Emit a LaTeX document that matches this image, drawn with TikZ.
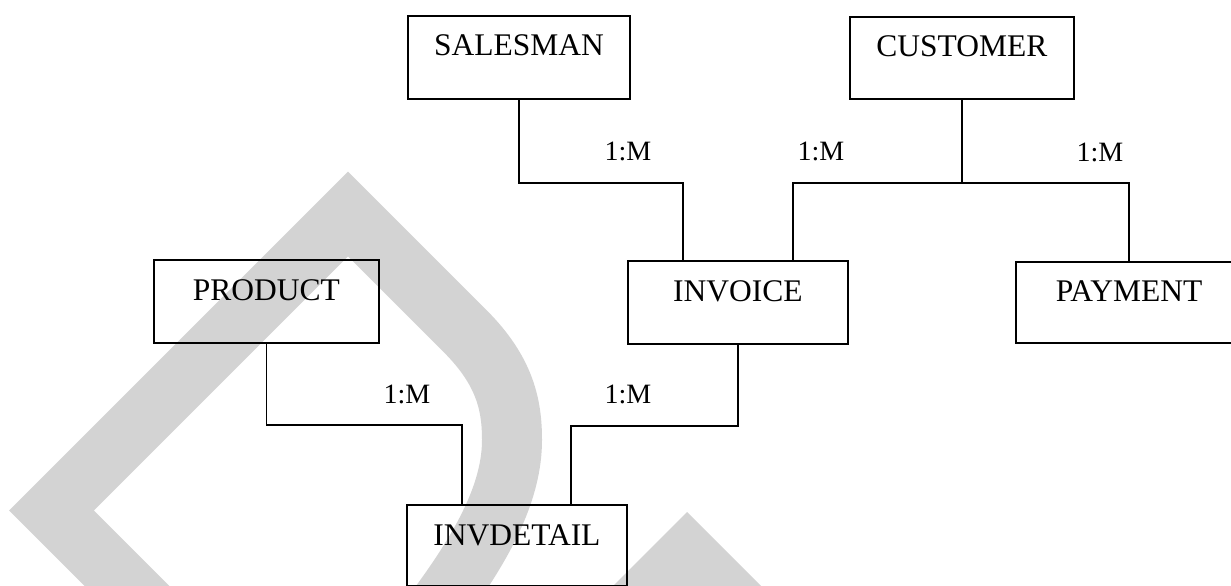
\documentclass[tikz,border=0pt]{standalone}
\usepackage{fontspec}
\setmainfont{Liberation Serif}
\usetikzlibrary{calc}
\definecolor{wmgray}{RGB}{211,211,211}
\tikzset{
  entity/.style={draw=black, line width=1.8pt, rectangle, inner sep=0pt, anchor=north west},
  etext/.style={anchor=base, font=\fontsize{31.5}{36}\selectfont, inner sep=0pt},
  card/.style={anchor=base, font=\fontsize{28}{32}\selectfont, inner sep=0pt},
  relline/.style={draw=black, line width=1.5pt},
}
\begin{document}
\begin{tikzpicture}[x=1pt,y=-1pt]
\useasboundingbox (0,0) rectangle (1231,586);
\begin{scope}
\clip (0,0) rectangle (1231,586);
% light grey background strokes
\draw[wmgray, line width=60pt, line join=miter]
  (171.5,630.5) -- (51.5,510.5) -- (348,214) -- (465,331)
  .. controls (505,371) and (512,405) .. (512,440)
  .. controls (512,490) and (485,540) .. (450,590) -- (420,632);
\fill[wmgray] (687,512) -- (787,612) -- (587,612) -- cycle;

% entity boxes
\node[entity, minimum width=222pt, minimum height=83pt] (sales) at (407,15) {};
\node[entity, minimum width=224pt, minimum height=82pt] (cust) at (849,16) {};
\node[entity, minimum width=225pt, minimum height=83pt] (prod) at (153,259) {};
\node[entity, minimum width=220pt, minimum height=83pt] (inv) at (627,260) {};
\node[entity, minimum width=228pt, minimum height=81pt] (pay) at (1015,261) {};
\node[entity, minimum width=220pt, minimum height=81pt] (invd) at (406,504) {};

% entity names
\node[etext] (salesT) at ([yshift=-41pt]sales.north) {SALESMAN};
\node[etext] (custT) at ([yshift=-41pt]cust.north) {CUSTOMER};
\node[etext] (prodT) at ([yshift=-41pt]prod.north) {PRODUCT};
\node[etext] (invT) at ([yshift=-41pt]inv.north) {INVOICE};
\node[etext] (payT) at ([yshift=-40pt]pay.north west -| 1129,0) {PAYMENT};
\node[etext] (invdT) at ([yshift=-41pt]invd.north) {INVDETAIL};

% relationships
\coordinate (cj) at ([yshift=-83pt]cust.south);
\draw[relline] (sales.south) -- ++(0,83) -| ([xshift=56pt]inv.north west);
\draw[relline] (cust.south) -- (cj);
\draw[relline] ([xshift=166pt]inv.north west) |- (cj) -| ([xshift=114pt]pay.north west);
\draw[relline] (inv.south) -- ++(0,81) -| ([xshift=165pt]invd.north west);
\draw[relline] (prod.south) -- ++(0,81) -| ([xshift=56pt]invd.north west);
\end{scope}

% cardinalities
\node[card] (c1) at (628,160) {1:M};
\node[card] (c2) at (821,160) {1:M};
\node[card] (c3) at (1100,161) {1:M};
\node[card] (c4) at (407,403) {1:M};
\node[card] (c5) at (628,403) {1:M};
\end{tikzpicture}
\end{document}
